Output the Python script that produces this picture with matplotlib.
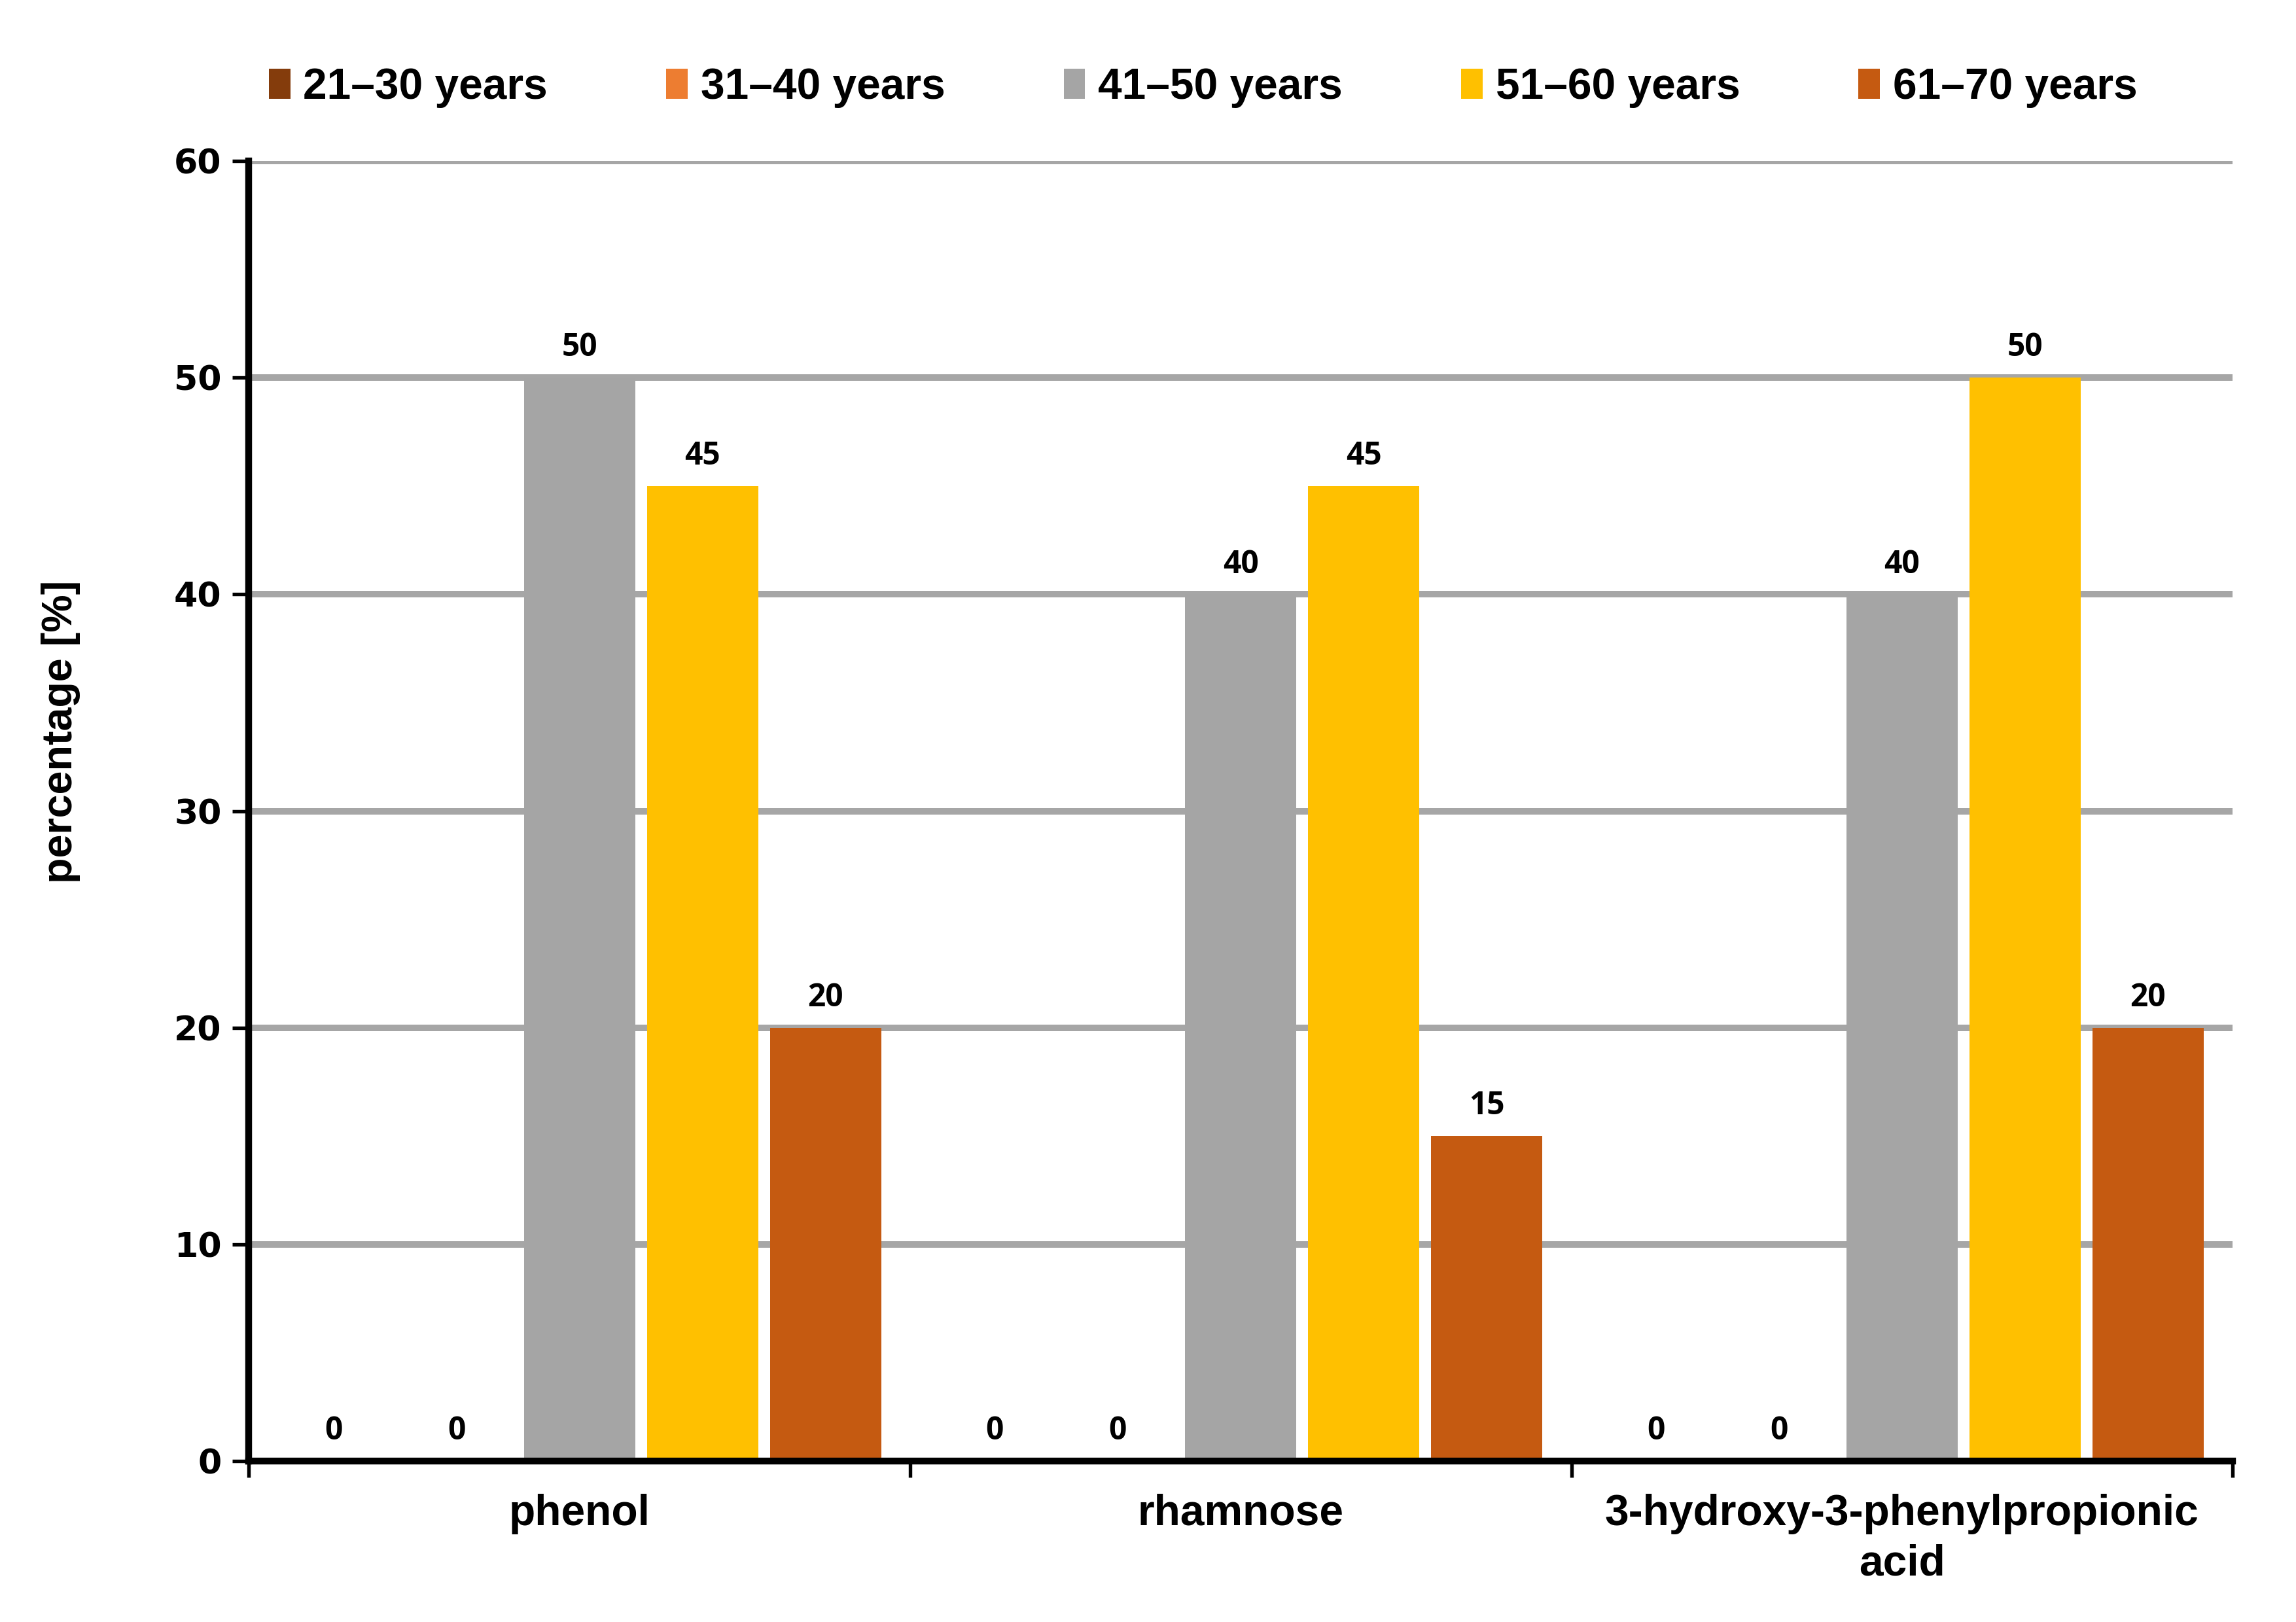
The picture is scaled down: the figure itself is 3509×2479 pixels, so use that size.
import matplotlib.pyplot as plt
import numpy as np

# data
categories = ['phenol', 'rhamnose', '3-hydroxy-3-phenylpropionic\nacid']
age_groups = ['21–30 years', '31–40 years', '41–50 years', '51–60 years', '61–70 years']
v_21_30 = [0, 0, 0]
v_31_40 = [0, 0, 0]
v_41_50 = [50, 40, 40]
v_51_60 = [45, 45, 50]
v_61_70 = [20, 15, 20]
series = [v_21_30, v_31_40, v_41_50, v_51_60, v_61_70]
colors = ['#843C0C', '#ED7D31', '#A5A5A5', '#FFC000', '#C55A11']

fig = plt.figure(figsize=(3509 / 300, 2479 / 300), dpi=300)
ax = fig.add_axes([0.1084, 0.0993, 0.864, 0.8014])

x = np.arange(len(categories))
step = 0.186
width = 0.168
for i, (vals, col, lab) in enumerate(zip(series, colors, age_groups)):
    bars = ax.bar(x + (i - 2) * step, vals, width, color=col, label=lab, zorder=3)
    ax.bar_label(bars, padding=5, fontsize=11.5, fontweight='bold',
                 family=['Open Sans', 'DejaVu Sans'])

ax.set_xlim(-0.5, 2.5)
ax.set_ylim(0, 60)
ax.set_yticks(range(0, 61, 10))
ax.yaxis.grid(True, color='#A6A6A6', lw=2.4, zorder=0)
ax.set_xticks(x)
ax.set_xticklabels(categories, fontsize=15.8, fontweight='bold',
                   family='Liberation Sans', linespacing=1.3)
ax.set_xticks([-0.5, 0.5, 1.5, 2.5], minor=True)
ax.tick_params(axis='x', which='major', length=0, pad=12)
ax.tick_params(axis='x', which='minor', length=6, width=1.3, direction='out')
ax.tick_params(axis='y', length=6, width=1.3, pad=4, labelsize=12.5)
for t in ax.get_yticklabels():
    t.set_fontweight('bold')
    t.set_family('DejaVu Sans')

for s in ['top', 'right']:
    ax.spines[s].set_visible(False)
ax.spines['left'].set_linewidth(2.5)
ax.spines['bottom'].set_linewidth(2.5)
ax.spines['left'].set_zorder(4)
ax.spines['bottom'].set_zorder(4)

ax.set_ylabel('percentage [%]', fontsize=15.5, fontweight='bold',
              family='Liberation Sans')
ax.yaxis.set_label_coords(-0.085, 0.561)

leg = fig.legend(loc='center', bbox_to_anchor=(0.524, 0.946), ncol=5,
                 frameon=False, handlelength=0.5, handleheight=0.7,
                 handletextpad=0.3, columnspacing=2.75,
                 prop={'family': 'Liberation Sans', 'weight': 'bold', 'size': 15.8})

fig.savefig('out.png', dpi=300)
